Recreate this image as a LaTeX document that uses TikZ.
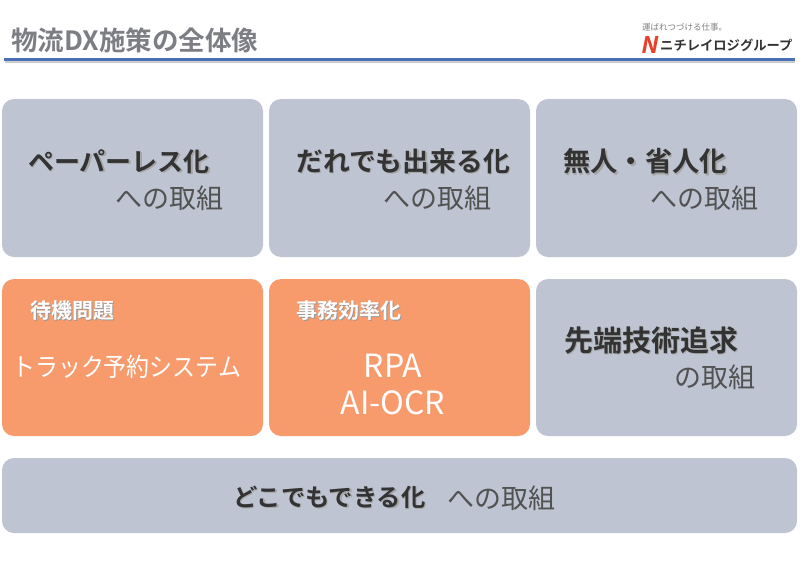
\documentclass[tikz,border=0pt]{standalone}
\usepackage{xcolor}
\usepackage{fontspec}
\setmainfont{Noto Sans CJK JP}
\newfontfamily\jpbold{Noto Sans CJK JP Bold}
\usetikzlibrary{positioning,calc}
\definecolor{panelgray}{HTML}{BEC4D2}
\definecolor{paneloran}{HTML}{F79A6C}
\definecolor{ruleblue}{HTML}{4A70B8}
\definecolor{titlegray}{HTML}{7C7E84}
\definecolor{inkdark}{HTML}{333333}
\definecolor{logored}{HTML}{E8402A}
\newcommand{\softshadow}[2]{\leavevmode\rlap{\kern1.5pt\raisebox{-1.5pt}{\color{#1}#2}}#2}

\begin{document}
\begin{tikzpicture}[
  x=1pt, y=-1pt,
  panel/.style={fill=#1, rounded corners=12pt, inner sep=0pt},
  headtxt/.style={anchor=west, inner sep=0pt, font=\jpbold\fontsize{#1}{30}\selectfont, text=inkdark},
  headtxt/.default=26,
  subtxt/.style={anchor=west, inner sep=0pt, font=\fontsize{27}{30}\selectfont, text=inkdark!85},
  smalltxt/.style={anchor=west, inner sep=0pt, font=\jpbold\fontsize{21}{24}\selectfont, text=white},
  bigtxt/.style={inner sep=0pt, font=\fontsize{#1}{37}\selectfont, text=white, align=center},
]
  \useasboundingbox (0,0) rectangle (800,563);
  \fill[white] (0,0) rectangle (800,563);

  % header
  \node[anchor=west, inner sep=0pt, font=\jpbold\fontsize{26.5}{30}\selectfont, text=titlegray] (title) at (11,40) {物流DX施策の全体像};
  \coordinate (ruleL) at (4,59);
  \coordinate (ruleR) at (795,59);
  \draw[gray!40, line width=2pt] ($(ruleL)+(1,3)$) -- ($(ruleR)+(0,3)$);
  \draw[ruleblue, line width=3pt] (ruleL) -- (ruleR);
  \node[anchor=west, inner sep=0pt, font=\fontsize{8.5}{10}\selectfont, text=gray] (tagline) at (642,27) {運ばれつづける仕事。};
  \node[anchor=west, inner sep=0pt, xslant=.2, font=\jpbold\fontsize{23}{24}\selectfont, text=logored] (logoN) at (642,45) {N};
  \node[anchor=west, inner sep=0pt, font=\jpbold\fontsize{13.3}{16}\selectfont, text=black!80] (logotxt) at (660,45) {ニチレイロジグループ};

  % panels
  \fill[panel=panelgray] (2,99) rectangle (263,257);
  \fill[panel=panelgray] (269,99) rectangle (530,257);
  \fill[panel=panelgray] (536,99) rectangle (797,257);
  \fill[panel=paneloran] (2,279) rectangle (263,436);
  \fill[panel=paneloran] (269,279) rectangle (530,436);
  \fill[panel=panelgray] (536,279) rectangle (797,436);
  \fill[panel=panelgray] (2,458) rectangle (797,533);

  % top row
  \node[headtxt] (paper) at (28,162) {\softshadow{gray!70}{ペーパーレス化}};
  \node[subtxt] (paperSub) at (115,198) {への取組};
  \node[headtxt=26.8] (anyone) at (296,162) {\softshadow{gray!70}{だれでも出来る化}};
  \node[subtxt] (anyoneSub) at (383,198) {への取組};
  \node[headtxt=27.3] (unmanned) at (563,162) {\softshadow{gray!70}{無人・省人化}};
  \node[subtxt] (unmannedSub) at (650,198) {への取組};

  % middle row
  \node[smalltxt] (wait) at (30,311) {\softshadow{gray!80}{待機問題}};
  \node[bigtxt=25.5, anchor=west, xscale=.9] (truck) at (12,367) {トラック予約システム};
  \node[smalltxt] (office) at (296,311) {\softshadow{gray!80}{事務効率化}};
  \node[bigtxt=32] (rpa) at (393,384) {RPA\\AI-OCR};
  \node[headtxt=29] (edge) at (564,341) {\softshadow{gray!70}{先端技術追求}};
  \node[subtxt] (edgeSub) at (674,377) {の取組};

  % bottom row
  \node[headtxt=24.3] (anywhere) at (233,498) {\softshadow{gray!70}{どこでもできる化}};
  \node[subtxt] (anywhereSub) at (447,498) {への取組};
\end{tikzpicture}
\end{document}
